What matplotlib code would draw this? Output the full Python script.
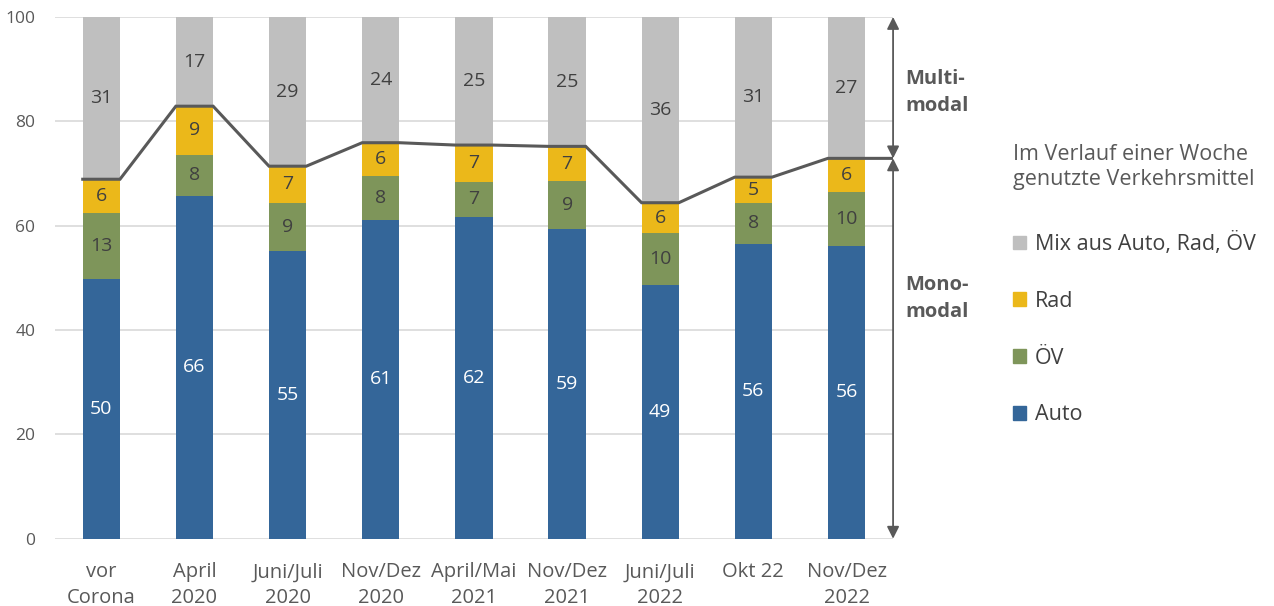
import numpy as np
import matplotlib.pyplot as plt
from matplotlib.patches import Patch

plt.rcParams['font.family'] = ['Open Sans', 'DejaVu Sans']

categories = ['vor\nCorona', 'April\n2020', 'Juni/Juli\n2020', 'Nov/Dez\n2020', 'April/Mai\n2021',
              'Nov/Dez\n2021', 'Juni/Juli\n2022', 'Okt 22', 'Nov/Dez\n2022']
auto = [49.8, 65.7, 55.2, 61.1, 61.7, 59.4, 48.6, 56.5, 56.2]
oev = [12.7, 7.9, 9.2, 8.4, 6.75, 9.2, 10.0, 7.9, 10.3]
rad = [6.4, 9.3, 7.0, 6.4, 7.0, 6.6, 5.8, 4.9, 6.4]
mix = [31.1, 17.1, 28.6, 24.1, 24.55, 24.8, 35.6, 30.7, 27.1]
series = ['Auto', 'ÖV', 'Rad', 'Mix aus Auto, Rad, ÖV']
colors = ['#346699', '#7E955A', '#EBB81A', '#BFBFBF']
text_colors = ['white', '#404040', '#404040', '#404040']

fig = plt.figure(figsize=(12.74, 6.06), dpi=100)
ax = fig.add_axes([0.043, 0.111, 0.658, 0.861])

x = np.arange(len(categories))
w = 0.4
bottom = np.zeros(len(x))
for vals, c, tc in zip([auto, oev, rad, mix], colors, text_colors):
    vals = np.array(vals)
    ax.bar(x, vals, w, bottom=bottom, color=c, zorder=2)
    for xi, b, v in zip(x, bottom, vals):
        ax.text(xi, b + v / 2, f'{v:.0f}', ha='center', va='center', color=tc, fontsize=14, zorder=4)
    bottom += vals

# linie über dem monomodalen anteil
mono = np.array(auto) + np.array(oev) + np.array(rad)
lx, ly = [], []
for xi, m in zip(x, mono):
    lx += [xi - w / 2, xi + w / 2]
    ly += [m, m]
lx.append(8.5)
ly.append(mono[-1])
ax.plot(lx, ly, color='#595959', lw=2.2, zorder=3, solid_joinstyle='miter')

# pfeile rechts
ac = '#595959'
for yend in (100, 0):
    ax.annotate('', xy=(8.5, yend), xytext=(8.5, mono[-1]),
                arrowprops=dict(arrowstyle='<|-|>', color=ac, lw=1.3, mutation_scale=18, shrinkA=0, shrinkB=0),
                annotation_clip=False)
ax.text(8.63, 85.5, 'Multi-\nmodal', fontsize=14.5, fontweight='bold', color='#595959', va='center', ha='left',
        linespacing=1.45)
ax.text(8.63, 46, 'Mono-\nmodal', fontsize=14.5, fontweight='bold', color='#595959', va='center', ha='left',
        linespacing=1.45)

ax.set_xlim(-0.5, 8.5)
ax.set_ylim(0, 100)
ax.set_yticks(range(0, 101, 20))
ax.set_xticks(x)
ax.set_xticklabels(categories, fontsize=14.5, color='#595959', linespacing=1.35)
ax.tick_params(axis='y', labelsize=12.5, labelcolor='#595959', length=0, pad=14)
ax.tick_params(axis='x', length=0, pad=17)
ax.grid(axis='y', color='#D9D9D9', lw=1.2, zorder=0)
for s in ax.spines.values():
    s.set_visible(False)

handles = [Patch(color=c) for c in colors[::-1]]
leg = fig.legend(handles, series[::-1], loc='upper left', bbox_to_anchor=(0.78, 0.795),
                 title='Im Verlauf einer Woche\ngenutzte Verkehrsmittel', frameon=False,
                 fontsize=15.5, title_fontsize=15.5, handlelength=0.6, handleheight=0.6,
                 handletextpad=0.4, labelspacing=1.66, alignment='left', labelcolor='#404040')
leg.get_title().set_color('#595959')
leg.get_title().set_linespacing(1.3)
leg._legend_box.sep = 30

fig.savefig('out.png', dpi=100)
